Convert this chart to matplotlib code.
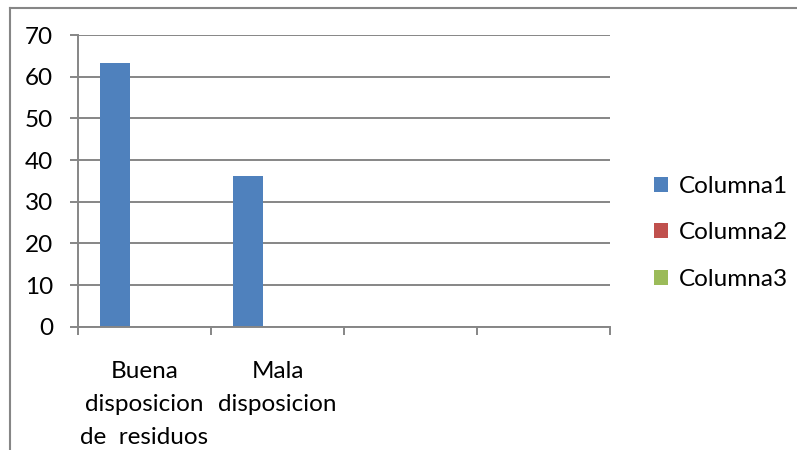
import matplotlib.pyplot as plt
import numpy as np
from matplotlib.lines import Line2D

# datos
categorias = ['Buena\ndisposicion\nde  residuos', 'Mala\ndisposicion', '', '']
columna1 = [63.4, 36.1, 0, 0]
columna2 = [0, 0, 0, 0]
columna3 = [0, 0, 0, 0]
series = ['Columna1', 'Columna2', 'Columna3']
colores = ['#4F81BD', '#C0504D', '#9BBB59']

gris = '#868686'
plt.rcParams['font.family'] = ['Lato', 'DejaVu Sans']
fs = 17.5

fig = plt.figure(figsize=(7.97, 4.5), dpi=100)
ax = fig.add_axes([78 / 797, 1 - 326.7 / 450, (610 - 78) / 797, (326.7 - 35) / 450])

x = np.arange(len(categorias))
ancho = 1 / 4.5
barras = []
for i, (vals, nombre, c) in enumerate(zip([columna1, columna2, columna3], series, colores)):
    b = ax.bar(x + (i - 1) * ancho, vals, ancho, color=c, label=nombre, linewidth=0)
    barras.append(b)

ax.set_xlim(-0.5, len(categorias) - 0.5)
ax.set_ylim(0, 70)
ax.set_yticks(range(0, 71, 10))
ax.yaxis.grid(True, color=gris, linewidth=1.4)
ax.set_axisbelow(True)

ax.set_xticks(x)
ax.set_xticklabels(categorias, linespacing=1.7)
ax.set_xticks(np.arange(-0.5, len(categorias)), minor=True)
ax.tick_params(axis='x', which='major', length=0, pad=25, labelsize=fs)
ax.tick_params(axis='x', which='minor', length=6, width=1.4, color=gris, direction='out')
ax.tick_params(axis='y', length=6, width=1.4, color=gris, pad=12, labelsize=fs)

for s in ['top', 'right']:
    ax.spines[s].set_visible(False)
for s in ['left', 'bottom']:
    ax.spines[s].set_color(gris)
    ax.spines[s].set_linewidth(1.4)

# borde del grafico
fig.add_artist(Line2D([10 / 797, 10 / 797], [0, 1 - 8 / 450], color=gris, lw=1.5))
fig.add_artist(Line2D([10 / 797, 1], [1 - 8 / 450, 1 - 8 / 450], color=gris, lw=1.5))

fig.legend(handles=barras, loc='center left', bbox_to_anchor=(632 / 797, 1 - 233 / 450),
           frameon=False, fontsize=fs, handlelength=0.58, handleheight=0.58,
           handletextpad=0.45, labelspacing=1.05)

fig.savefig('out.png', dpi=100)
